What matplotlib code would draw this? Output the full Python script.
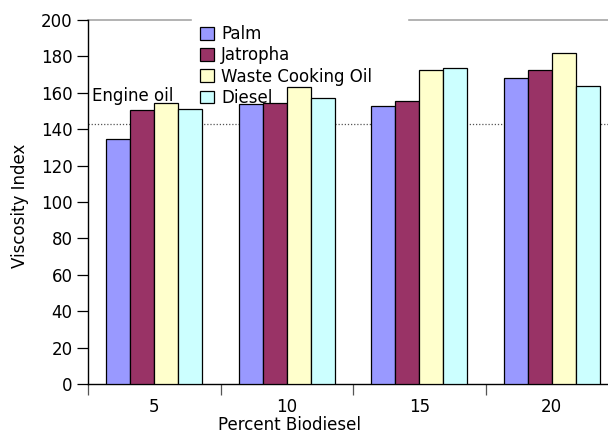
import numpy as np
import matplotlib
matplotlib.use("Agg")
import matplotlib.pyplot as plt

# data
categories = ["5", "10", "15", "20"]
series = ["Palm", "Jatropha", "Waste Cooking Oil", "Diesel"]
palm = [134.5, 153.8, 152.7, 168.2]
jatropha = [150.4, 154.6, 155.6, 172.6]
waste_oil = [154.2, 163.2, 172.8, 181.8]
diesel = [151.0, 157.4, 173.4, 163.6]
engine_oil = 143

values = [palm, jatropha, waste_oil, diesel]
colors = ["#9999FF", "#993366", "#FFFFCC", "#CCFFFF"]

plt.rcParams['font.family'] = ['DejaVu Sans']
fs = 12

fig = plt.figure(figsize=(6.08, 4.33), dpi=100)
# axes runs slightly past the right edge like the cropped original
ax = fig.add_axes([88/608, 49/433, 530/608, 364/433])

x = np.arange(len(categories))
w = 0.181
for i, (name, vals) in enumerate(zip(series, values)):
    ax.bar(x + (i - 1.5) * w, vals, w, color=colors[i], edgecolor="black",
           linewidth=0.9, label=name, zorder=3)

ax.axhline(engine_oil, color="#555555", linestyle=(0, (1, 1.5)), linewidth=0.9, zorder=2)
ax.text(-0.47, 155.3, "Engine oil", fontsize=fs, va="baseline", ha="left", zorder=4)

ax.set_xlim(-0.5, 3.5)
ax.set_ylim(0, 200)
ax.set_yticks(np.arange(0, 201, 20))
ax.tick_params(axis="y", direction="out", length=8, width=0.9, labelsize=fs, pad=3)

# group boundaries get the ticks, centres get the labels
ax.set_xticks(np.arange(-0.5, 3.6, 1))
ax.set_xticklabels([])
ax.set_xticks(x, minor=True)
ax.set_xticklabels(categories, minor=True)
ax.tick_params(axis="x", which="major", direction="out", length=8, width=0.9, color="#555555")
ax.tick_params(axis="x", which="minor", length=0, labelsize=fs, pad=10)

ax.spines["right"].set_visible(False)
ax.spines["top"].set_color("#a6a6a6")
ax.spines["top"].set_linewidth(1.2)
ax.spines["top"].set_zorder(1)
ax.spines["left"].set_linewidth(1.0)
ax.spines["bottom"].set_linewidth(1.0)

ax.set_ylabel("Viscosity Index", fontsize=fs)
ax.yaxis.set_label_coords(-0.112, 0.49)
ax.set_xlabel("Percent Biodiesel", fontsize=fs)
ax.xaxis.set_label_coords(0.381, -0.087)

leg = ax.legend(loc="upper left", bbox_to_anchor=(192/608, 1 - 110/433, 215/608, 93/433),
                bbox_transform=fig.transFigure, mode="expand", borderaxespad=0,
                fontsize=fs, frameon=True, fancybox=False, handlelength=0.8,
                handleheight=0.8, handletextpad=0.45, labelspacing=0.19, borderpad=0.5)
leg.get_frame().set_facecolor("white")
leg.get_frame().set_edgecolor("white")
leg.get_frame().set_alpha(1)
leg.set_zorder(2)

fig.savefig("out.png", dpi=100)
